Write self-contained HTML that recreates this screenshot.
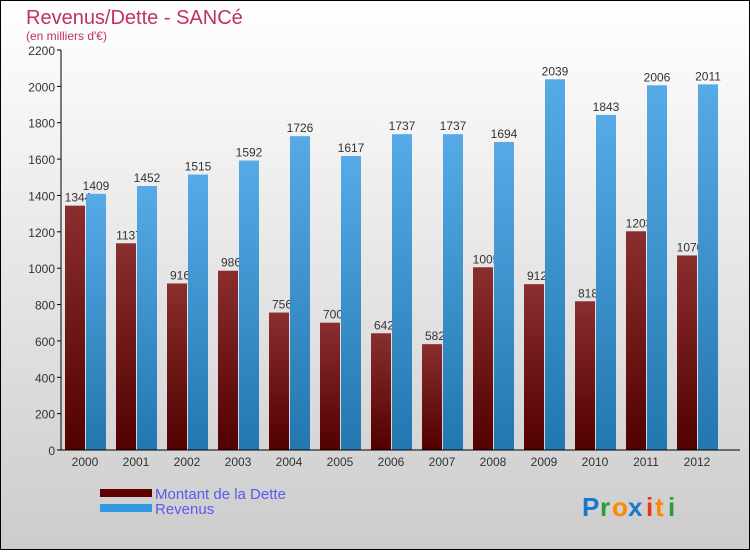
<!DOCTYPE html>
<html><head><meta charset="utf-8"><style>
body{margin:0;width:750px;height:550px;overflow:hidden;font-family:"Liberation Sans",sans-serif}
</style></head><body>
<svg id="c" width="750" height="550" xmlns="http://www.w3.org/2000/svg">
<defs>
<linearGradient id="bg" x1="0" y1="0" x2="0" y2="1"><stop offset="0" stop-color="#ffffff"/><stop offset="1" stop-color="#cccccc"/></linearGradient>
<linearGradient id="gd" x1="0" y1="0" x2="0" y2="1"><stop offset="0" stop-color="#8a2e2e"/><stop offset="1" stop-color="#520000"/></linearGradient>
<linearGradient id="gr" x1="0" y1="0" x2="0" y2="1"><stop offset="0" stop-color="#56aae6"/><stop offset="1" stop-color="#2377b0"/></linearGradient>
</defs>
<rect x="0.5" y="0.5" width="749" height="549" fill="url(#bg)" stroke="#000"/>
<text x="26" y="24" font-size="20" fill="#c0306a">Revenus/Dette - SANCé</text>
<text x="26" y="40" font-size="12" fill="#c0306a">(en milliers d'€)</text>
<g id="plot"></g>
<rect x="100" y="489" width="52" height="8" fill="#600000"/>
<rect x="100" y="504" width="52" height="8" fill="#3399e0"/>
<text x="155" y="499" font-size="15" fill="#5a5aee">Montant de la Dette</text>
<text x="155" y="514" font-size="15" fill="#5a5aee">Revenus</text>
<g font-size="26" font-weight="bold">
<text x="582" y="516" fill="#1a77cc">P</text><text x="600" y="516" fill="#2a9a3a">r</text><text x="612" y="516" fill="#ff8800">o</text><text x="628" y="516" fill="#1a77cc">x</text><text x="646" y="516" fill="#ee3311">i</text><text x="655" y="516" fill="#ff8800">t</text><text x="668" y="516" fill="#2a9a3a">i</text>
</g>
</svg>
<script>
const years=["2000","2001","2002","2003","2004","2005","2006","2007","2008","2009","2010","2011","2012"];
const dette=[1344,1137,916,986,756,700,642,582,1005,912,818,1203,1070];
const revenus=[1409,1452,1515,1592,1726,1617,1737,1737,1694,2039,1843,2006,2011];
const ticks=[0,200,400,600,800,1000,1200,1400,1600,1800,2000,2200];
const NS="http://www.w3.org/2000/svg";
const g=document.getElementById('plot');
const y=v=>450-v*400/2200;
const xc=i=>85+i*51;
function el(t,a,txt){const e=document.createElementNS(NS,t);for(const k in a)e.setAttribute(k,a[k]);if(txt!==undefined)e.textContent=txt;g.appendChild(e);return e;}
ticks.forEach(t=>{
 const l=el('line',{x1:57,x2:61,y1:y(t),y2:y(t),stroke:'#000'});
 
 
 const tx=el('text',{x:55,y:y(t)+5,'text-anchor':'end','font-size':12,fill:'#333'},t);
 
 
});
years.forEach((yr,i)=>{
 const c=xc(i);
 const b1=el('rect',{x:c-20,y:y(dette[i]),width:20,height:450-y(dette[i]),fill:'url(#gd)'});
 
 
 const v1=el('text',{x:c-7,y:y(dette[i])-4,'text-anchor':'middle','font-size':12,fill:'#333'},dette[i]);
 
 
 const b2=el('rect',{x:c+1,y:y(revenus[i]),width:20,height:450-y(revenus[i]),fill:'url(#gr)'});
 
 
 const v2=el('text',{x:c+11,y:y(revenus[i])-4,'text-anchor':'middle','font-size':12,fill:'#333'},revenus[i]);
 
 
 const xl=el('text',{x:c,y:466,'text-anchor':'middle','font-size':12,fill:'#333'},yr);
 
 
});
const ya=el('line',{x1:61,x2:61,y1:50,y2:450,stroke:'#000'});


const xa=el('line',{x1:61,x2:740,y1:450,y2:450,stroke:'#000'});


</script>
</body></html>
